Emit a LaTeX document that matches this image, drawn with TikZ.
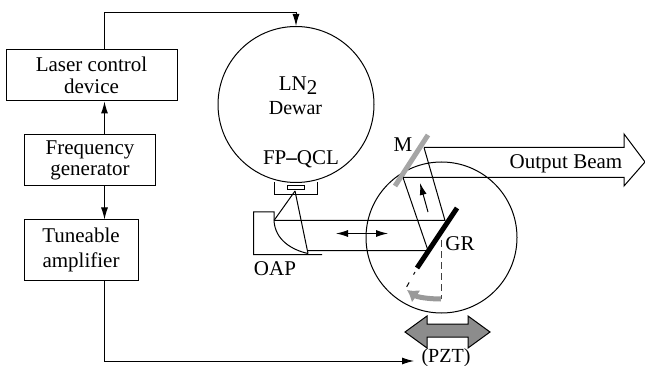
\documentclass[tikz,border=0pt]{standalone}
\usepackage{fontspec}
\setmainfont{Liberation Serif}
\usetikzlibrary{arrows.meta}

\begin{document}
\begin{tikzpicture}
	[x=1pt, y=-1pt, line width=1pt, >={Latex[length=12pt,width=7pt]},
	main/.style = {draw, rectangle, align=center, inner sep=0pt, font=\fontsize{21}{21.5}\selectfont},
	disc/.style = {draw, circle, inner sep=0pt},
	label/.style = {anchor=base, inner sep=0pt, font=\fontsize{21}{21.5}\selectfont},
	mirror/.style = {line width=5pt}]
	\useasboundingbox (0,0) rectangle (645,366);
	% boxes on the left
	\node[main, minimum width=171pt, minimum height=51pt] (laser) at (91.5,75.5) {Laser control\\device};
	\node[main, minimum width=131pt, minimum height=51pt] (freq) at (90,160.5) {Frequency\\generator};
	\node[main, minimum width=114pt, minimum height=60pt] (amp) at (81,250) {Tuneable\\[3pt]amplifier};
	% dewar and laser mount
	\node[disc, minimum size=156pt] (dewar) at (296,104.5) {};
	\node[label] (ln) at (298,91) {LN\raisebox{-4pt}{2}};
	\node[label] (dw) at (295.5,115) {\fontsize{20}{21}\selectfont Dewar};
	\node[label] (qcl) at (301,165) {FP{\bfseries --}QCL};
	\node[draw, minimum width=17pt, minimum height=4pt, inner sep=0pt] (chip) at (295.5,188) {};
	\coordinate (m1) at (274,182);
	\coordinate (m2) at (274,195);
	\coordinate (m3) at (317,195);
	\coordinate (m4) at (317,182);
	\draw (m1) -- (m2) -- (m3) -- (m4);
	% stage
	\node[disc, minimum size=151pt] (stage) at (441.5,237.5) {};
	% off axis parabola
	\coordinate (o1) at (274,220.5);
	\coordinate (o2) at (308,253.5);
	\coordinate (o3) at (322,254.5);
	\coordinate (o4) at (253.5,254.5);
	\coordinate (o5) at (253.5,212);
	\coordinate (o6) at (274,212);
	\draw (o3) -- (o4) -- (o5) -- (o6) -- (o1) .. controls (275,240) and (292,250) .. (o2);
	\node[label] (oap) at (275,275) {OAP};
	% beam
	\coordinate (b1) at (445,220.5);
	\coordinate (b2) at (428,250.5);
	\coordinate (b3) at (424,147.5);
	\coordinate (b4) at (403,177.5);
	\coordinate (b5) at (308,250.5);
	\coordinate (c1) at (295,191);
	\draw (c1) -- (o1);
	\draw (c1) -- (o2);
	\draw (o1) -- (b1) -- (b3);
	\draw (b5) -- (b2) -- (b4);
	% grating and mirror
	\coordinate (g1) at (457,208);
	\coordinate (g2) at (417,268);
	\coordinate (g3) at (415,272);
	\coordinate (g4) at (406,288);
	\coordinate (r1) at (428,135);
	\coordinate (r2) at (395,186);
	\draw[mirror, black] (g1) -- (g2);
	\draw[dash pattern=on 3pt off 9pt on 5pt off 9pt] (g3) -- (g4);
	\draw[mirror, black!35] (r1) -- (r2);
	\node[label] (gr) at (460,250) {GR};
	\node[label] (m) at (403,152) {M};
	% rotation
	\coordinate (d1) at (441,240);
	\coordinate (d2) at (441,299);
	\coordinate (d3) at (407,290);
	\draw[dash pattern=on 7pt off 4pt, black!75] (d1) -- (d2);
	\draw[line width=5pt, black!40, -{Latex[length=11pt,width=15pt]}] (d2) .. controls (428,299) and (417,297) .. (d3);
	% small arrows
	\coordinate (a1) at (428,212);
	\coordinate (a2) at (420,183);
	\coordinate (a3) at (336,233.5);
	\coordinate (a4) at (388,233.5);
	\draw[->] (a1) -- (a2);
	\draw[<->] (a3) -- (a4);
	% output beam
	\coordinate (h1) at (624,147.5);
	\coordinate (h2) at (624,134);
	\coordinate (h3) at (645,162);
	\coordinate (h4) at (624,186);
	\coordinate (h5) at (624,177.5);
	\draw (b3) -- (h1) -- (h2) -- (h3) -- (h4) -- (h5) -- (b4);
	\node[label] (out) at (566,169) {Output Beam};
	% translation arrow
	\coordinate (t1) at (405,332);
	\coordinate (t2) at (427,316);
	\coordinate (t3) at (427,324);
	\coordinate (t4) at (468,324);
	\coordinate (t5) at (468,316);
	\coordinate (t6) at (490,332);
	\coordinate (t7) at (468,348);
	\coordinate (t8) at (468,337);
	\coordinate (t9) at (427,337);
	\coordinate (t10) at (427,348);
	\draw[fill=black!45] (t1) -- (t2) -- (t3) -- (t4) -- (t5) -- (t6) -- (t7) -- (t8) -- (t9) -- (t10) -- cycle;
	\node[label] (pzt) at (446,362) {\fontsize{20}{21}\selectfont (PZT)};
	% wiring
	\coordinate (w1) at (104.5,12.5);
	\coordinate (w2) at (296,12.5);
	\coordinate (w3) at (104.5,361);
	\coordinate (w4) at (414,361);
	\draw[->] (laser.north -| w1) -- (w1) -- (w2) -- (dewar.north);
	\draw[->] (freq.north -| w1) -- (laser.south -| w1);
	\draw[->] (freq.south -| w1) -- (amp.north -| w1);
	\draw[->] (amp.south -| w1) -- (w3) -- (w4);
\end{tikzpicture}
\end{document}
